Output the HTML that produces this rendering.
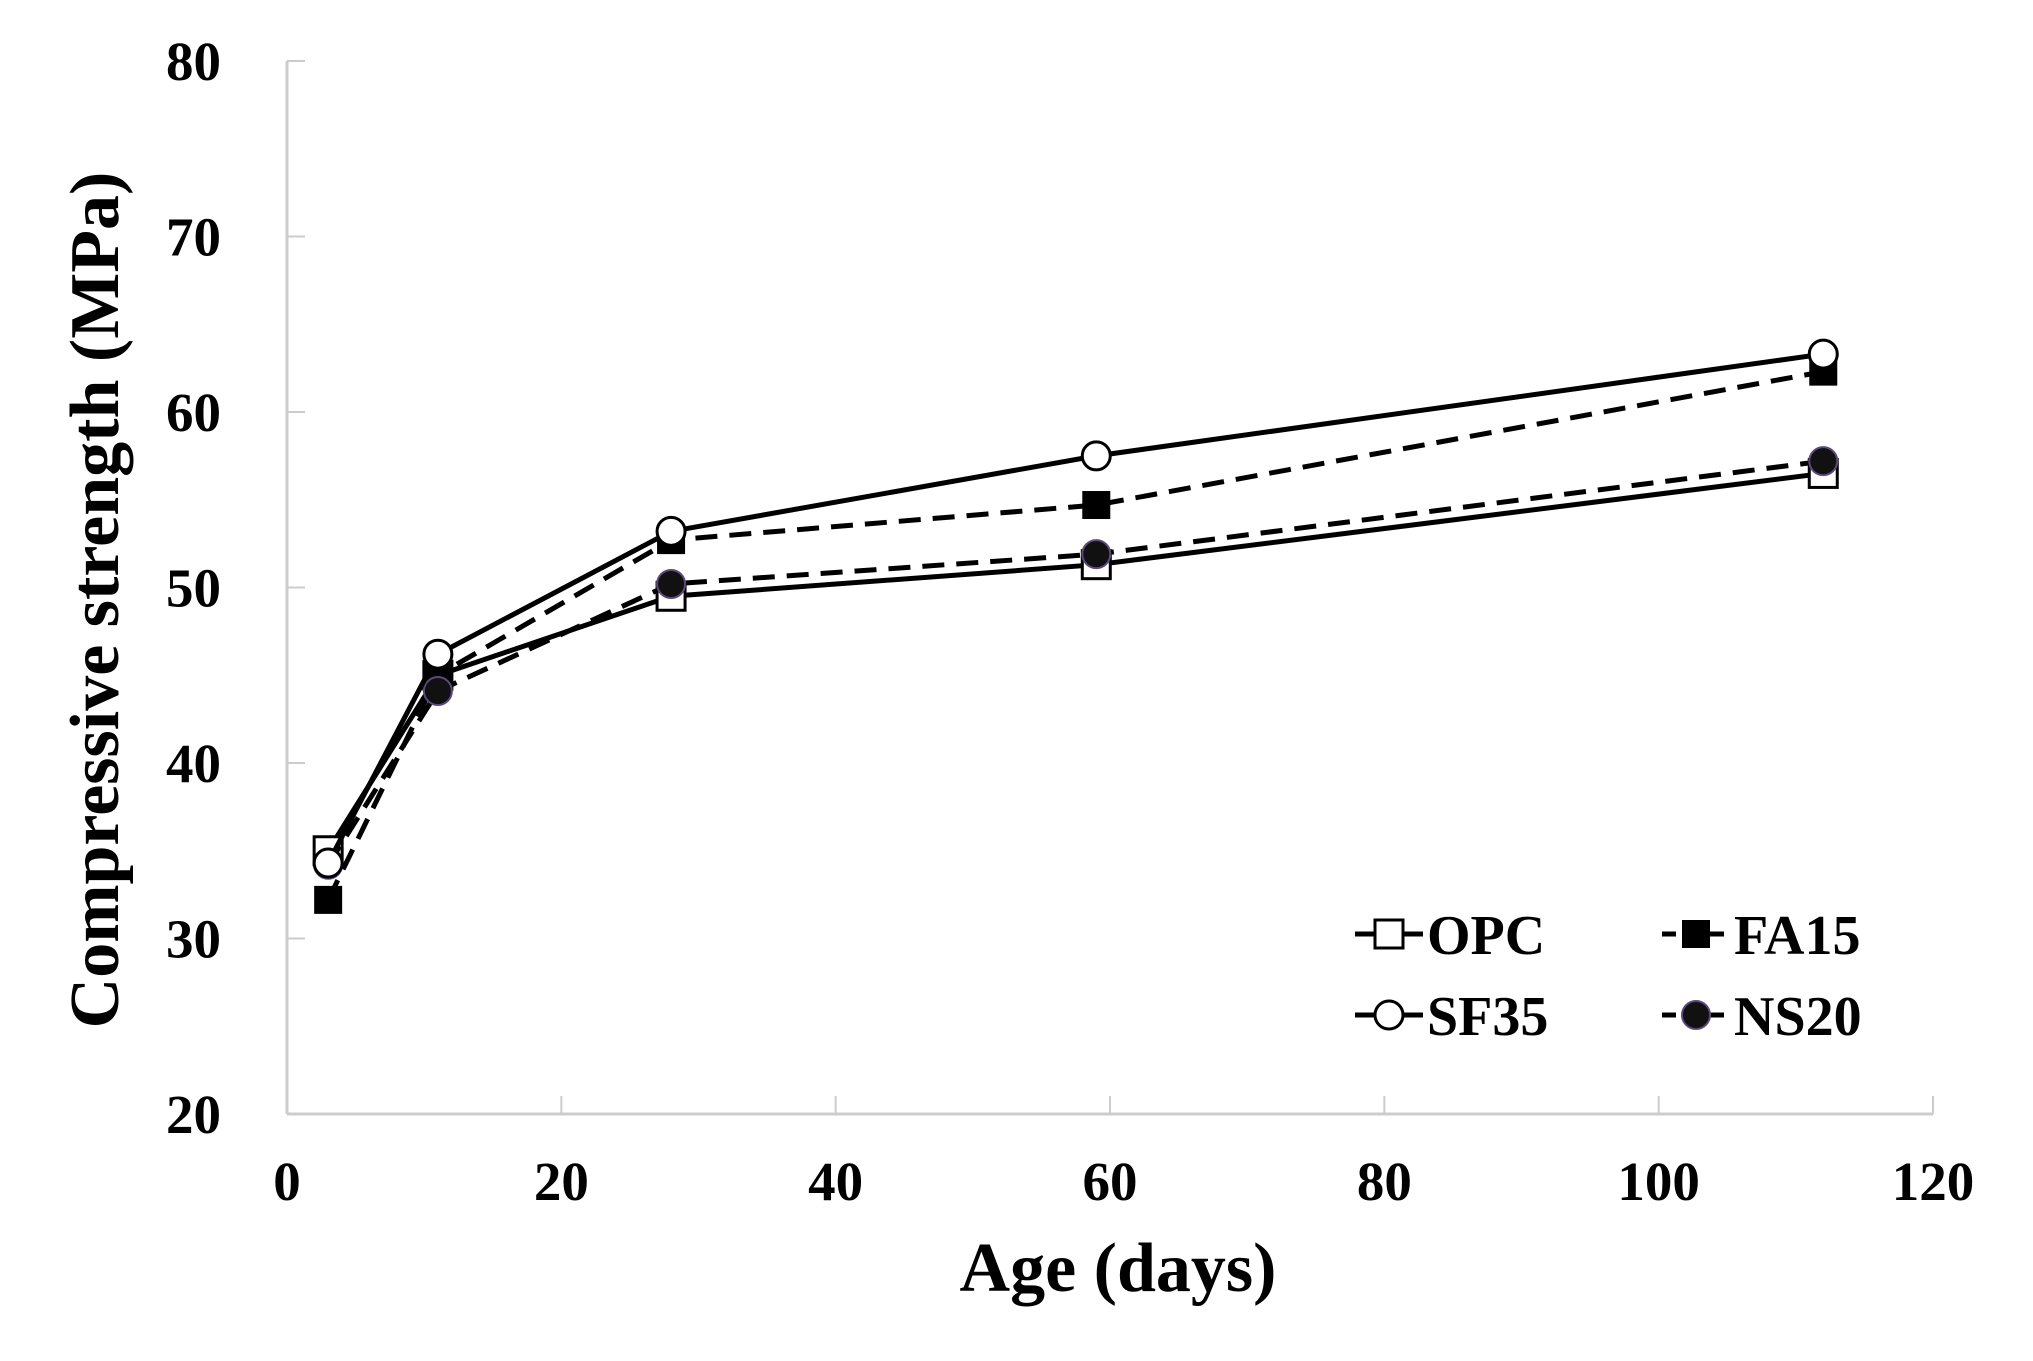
<!DOCTYPE html>
<html><head><meta charset="utf-8"><style>
body{margin:0;background:#fff}
svg{display:block}
text{font-family:"Liberation Serif",serif;font-weight:bold;fill:#000}
</style></head><body>
<svg id="chart" width="2033" height="1361" viewBox="0 0 2033 1361"></svg>
<script>
const days=[3,11,28,59,112];
const opc=[35,45,49.5,51.3,56.5];
const sf35=[34.3,46.2,53.2,57.5,63.3];
const fa15=[32.2,45,52.7,54.7,62.3];
const ns20=[34.2,44.1,50.2,51.9,57.2];
const xTicks=[0,20,40,60,80,100,120];
const yTicks=[20,30,40,50,60,70,80];
const X0=287,X1=1933,Y0=1114,Y1=61;
const sx=v=>X0+(v-0)/120*(X1-X0);
const sy=v=>Y0-(v-20)/60*(Y0-Y1);
const svg=document.getElementById('chart');
const NS='http://www.w3.org/2000/svg';
function mk(t,a,p){const e=document.createElementNS(NS,t);for(const k in a)e.setAttribute(k,a[k]);(p||svg).appendChild(e);return e;}
let ax=mk('line',{x1:X0,y1:Y1,x2:X0,y2:Y0,stroke:'#ccc','stroke-width':3});


let ax2=mk('line',{x1:X0,y1:Y0,x2:X1,y2:Y0,stroke:'#ccc','stroke-width':3});


yTicks.forEach(v=>{
  const l=mk('line',{x1:X0,y1:sy(v),x2:X0+18,y2:sy(v),stroke:'#ccc','stroke-width':2});
  
  
  const t=mk('text',{x:X0-66,y:sy(v)+19,'text-anchor':'end','font-size':55});
  t.textContent=v;
  
  
});
xTicks.forEach(v=>{
  const l=mk('line',{x1:sx(v),y1:Y0,x2:sx(v),y2:Y0-18,stroke:'#ccc','stroke-width':2});
  
  
  const t=mk('text',{x:sx(v),y:Y0+86,'text-anchor':'middle','font-size':55});
  t.textContent=v;
  
  
});
let yt=mk('text',{x:0,y:0,'text-anchor':'middle','font-size':70,transform:'translate(118,600) rotate(-90)'});
yt.textContent='Compressive strength (MPa)';


let xt=mk('text',{x:1118,y:1291,'text-anchor':'middle','font-size':70});
xt.textContent='Age (days)';


function marker(g,type,x,y){
  if(type==='sq-open')mk('rect',{x:x-14,y:y-14,width:28,height:28,fill:'#fff',stroke:'#000','stroke-width':3},g);
  if(type==='sq-fill')mk('rect',{x:x-14,y:y-14,width:28,height:28,fill:'#000'},g);
  if(type==='c-open')mk('circle',{cx:x,cy:y,r:14,fill:'#fff',stroke:'#000','stroke-width':3},g);
  if(type==='c-fill')mk('circle',{cx:x,cy:y,r:14,fill:'#111',stroke:'#5a4a7a','stroke-width':2},g);
}
const series=[
  {name:'opc',vals:opc,dash:null,m:'sq-open'},
  {name:'fa15',vals:fa15,dash:'22 12',m:'sq-fill'},
  {name:'ns20',vals:ns20,dash:'22 12',m:'c-fill'},
  {name:'sf35',vals:sf35,dash:null,m:'c-open'}
];
series.forEach(s=>{
  const g=mk('g',{});
  
  
  const pts=days.map((d,i)=>sx(d)+','+sy(s.vals[i])).join(' ');
  const pl=mk('polyline',{points:pts,fill:'none',stroke:'#000','stroke-width':5},g);
  if(s.dash)pl.setAttribute('stroke-dasharray',s.dash);
  
  
  days.forEach((d,i)=>marker(g,s.m,sx(d),sy(s.vals[i])));
});
const leg=[['OPC','sq-open',null,1389,934],['FA15','sq-fill','14 10',1696,934],['SF35','c-open',null,1389,1015],['NS20','c-fill','14 10',1696,1015]];
leg.forEach(l=>{
  const g=mk('g',{});
  
  
  const ln=mk('line',{x1:l[3]-34,y1:l[4],x2:l[3]+34,y2:l[4],stroke:'#000','stroke-width':5},g);
  if(l[2])ln.setAttribute('stroke-dasharray',l[2]);
  marker(g,l[1],l[3],l[4]);
  const t=mk('text',{x:l[3]+38,y:l[4]+20,'font-size':56},g);
  t.textContent=l[0];
});
</script>
</body></html>
